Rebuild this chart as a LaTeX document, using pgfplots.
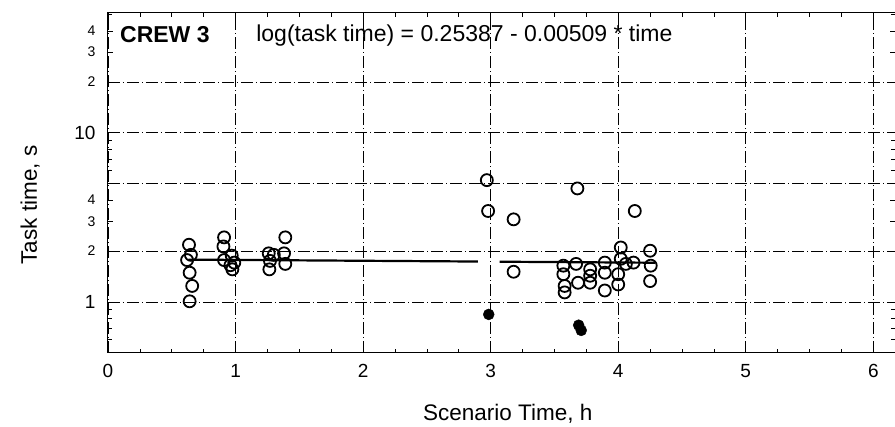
\documentclass[border=0pt]{standalone}
\usepackage{fontspec}
\setmainfont{Liberation Sans}
\usepackage{pgfplots}
\pgfplotsset{compat=1.18}

\newcommand{\bigtxt}{\fontsize{19}{21}\selectfont}
\newcommand{\smtxt}{\fontsize{14}{16}\selectfont}
\newcommand{\lbltxt}{\fontsize{22.5}{25}\selectfont}

\begin{document}
\begin{tikzpicture}
\begin{axis}[
    scale only axis,
    width=787pt, height=340pt,
    ymode=log,
    xmin=0, xmax=6.17,
    ymin=0.5, ymax=51,
    xtick={0,1,2,3,4,5,6},
    minor x tick num=3,
    ytick={1,2,3,4,10,20,30,40},
    yticklabels={{\bigtxt 1},{\smtxt 2},{\smtxt 3},{\smtxt 4},{\bigtxt 10},{\smtxt 2},{\smtxt 3},{\smtxt 4}},
    minor ytick={0.6,0.7,0.8,0.9,5,6,7,8,9,50},
    extra y ticks={1,2,5,10,20},
    extra y tick labels={},
    extra y tick style={grid=major, major tick length=0pt},
    xmajorgrids,
    grid style={black, line width=0.6pt, dash pattern=on 12pt off 3pt on 1pt off 3pt},
    tick align=inside,
    major tick length=5pt, minor tick length=4pt,
    tick style={black, line width=0.6pt},
    axis line style={line width=1pt},
    ticklabel style={font=\bigtxt},
    yticklabel style={xshift=-9pt},
    xticklabel style={yshift=-8pt},
    /pgf/number format/assume math mode=true,
    xlabel={Scenario Time, h},
    ylabel={Task time, s},
    label style={font=\lbltxt},
    xlabel style={at={(axis description cs:0.508,-0.179)}, anchor=center},
    ylabel style={at={(axis description cs:-0.099,0.435)}, anchor=center},
    clip=false,
]
% regression line
\addplot[black, line width=2.2pt] coordinates {(0.63,1.781) (2.90,1.735)};
\addplot[black, line width=2.2pt] coordinates {(3.07,1.731) (4.29,1.707)};
% open circles
\addplot[only marks, mark=o, mark size=6pt, mark options={line width=1.8pt, fill=white}] coordinates {
(0.635,2.18) (0.65,1.90) (0.62,1.77) (0.64,1.49) (0.66,1.245) (0.64,1.01)
(0.91,2.41) (0.905,2.13) (0.91,1.77) (0.97,1.88) (0.99,1.71) (0.975,1.56) (0.96,1.65)
(1.26,1.94) (1.265,1.56) (1.30,1.90) (1.39,2.41) (1.38,1.94) (1.39,1.68) (1.27,1.75)
(2.97,5.25) (2.98,3.45) (3.18,3.08) (3.18,1.51)
(3.68,4.69) (4.13,3.45)
(3.57,1.64) (3.67,1.68) (3.57,1.46) (3.58,1.245) (3.58,1.14) (3.685,1.30)
(3.78,1.56) (3.78,1.43) (3.78,1.30) (3.895,1.71) (3.895,1.49) (3.895,1.17)
(4.02,2.10) (4.02,1.80) (4.0,1.46) (4.0,1.27) (4.12,1.71) (4.06,1.68)
(4.25,2.01) (4.255,1.64) (4.25,1.33)
};
% filled circles
\addplot[only marks, mark=*, mark size=5.5pt, black] coordinates {
(2.985,0.845) (3.69,0.73) (3.71,0.68)
};
\node[anchor=west, font=\fontsize{23}{25}\selectfont\bfseries] at (axis description cs:0.011,0.935) {CREW 3};
\node[anchor=west, font=\fontsize{23}{25}\selectfont] at (axis description cs:0.184,0.935) {log(task time) = 0.25387 - 0.00509 * time};
\end{axis}
\pgfresetboundingbox
\path (-108pt,-74pt) rectangle (787pt,353pt);
\end{tikzpicture}
\end{document}
